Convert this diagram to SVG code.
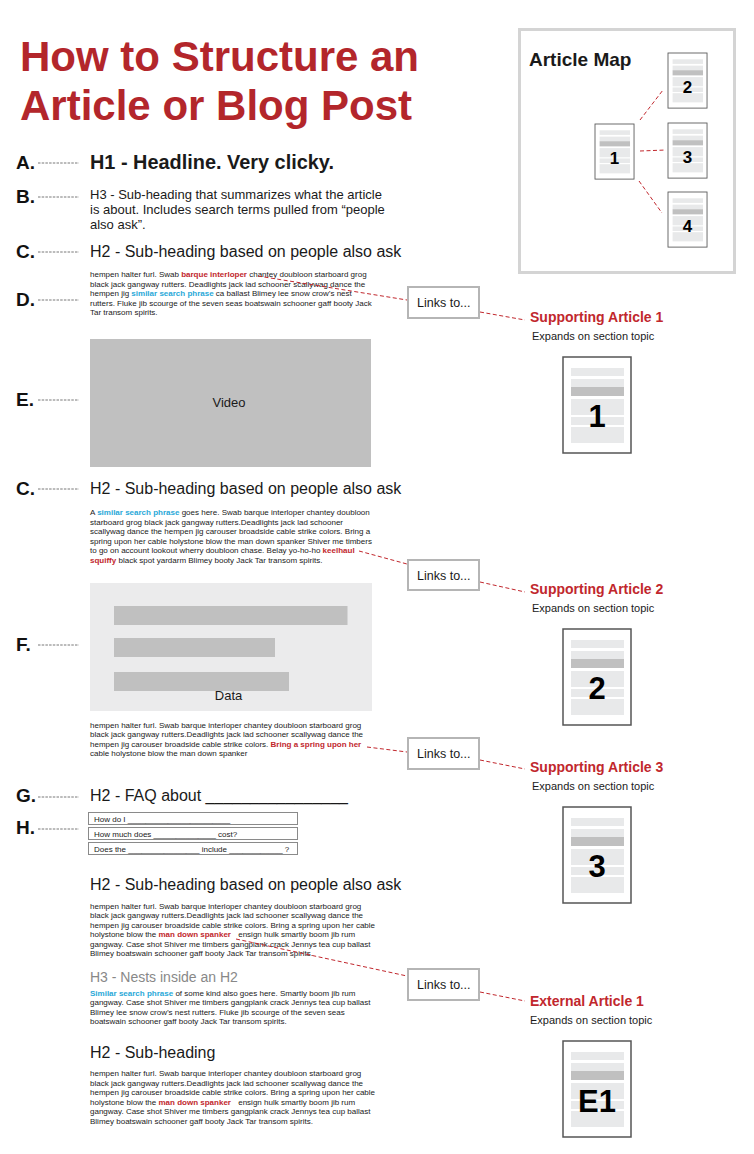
<svg xmlns="http://www.w3.org/2000/svg" xmlns:xlink="http://www.w3.org/1999/xlink" width="754" height="1154" viewBox="0 0 754 1154">
<style>
text{font-family:"Liberation Sans",Arial,sans-serif;fill:#1a1a1a}
.title{font-size:42px;font-weight:bold;fill:#b3262b}
.lbl{font-size:19px;font-weight:bold;fill:#111}
.dash{stroke:#555;stroke-width:0.8;stroke-dasharray:2.5 1.2;fill:none}
.h1{font-size:19.9px;font-weight:bold}
.h3{font-size:13px}
.h2{font-size:16px}
.h3g{font-size:14px;fill:#888}
.p{font-size:8px}
.red{fill:#c1272d;font-weight:bold}
.cyan{fill:#29a8d8;font-weight:bold}
.link{stroke:#c1272d;stroke-width:1;stroke-dasharray:4 2.5;fill:none}
.box{fill:#fff;stroke:#b5b5b5;stroke-width:2}
.boxt{font-size:12.5px}
.sa{font-size:14px;font-weight:bold;fill:#c1272d}
.exp{font-size:11px}
.num{font-size:31px;font-weight:bold;fill:#000;text-anchor:middle}
.numS{font-size:17px;font-weight:bold;fill:#000;text-anchor:middle}
.faqbox{fill:#fff;stroke:#8a8a8a;stroke-width:1}
.faqt{font-size:8px}
.mid{text-anchor:middle}
</style>
<defs>
<g id="doc">
<rect x="0" y="0" width="68" height="96" fill="#fff" stroke="#555" stroke-width="1.5"/>
<rect x="8" y="11" width="53" height="8" fill="#e8e9ea"/>
<rect x="8" y="22" width="53" height="8" fill="#e8e9ea"/>
<rect x="8" y="30" width="53" height="9" fill="#c0c0c0"/>
<rect x="8" y="42" width="53" height="16" fill="#e8e9ea"/>
<rect x="8" y="60" width="53" height="8" fill="#e8e9ea"/>
<rect x="8" y="70" width="53" height="16" fill="#e8e9ea"/>
</g>
</defs>
<rect width="754" height="1154" fill="#fff"/>

<g id="title">
<text class="title" x="20" y="71">How to Structure an</text>
<text class="title" x="20" y="120">Article or Blog Post</text>
</g>

<g id="labels">
<text class="lbl" x="16" y="169">A.</text><line class="dash" x1="38" y1="163" x2="79" y2="163"/>
<text class="lbl" x="16" y="203">B.</text><line class="dash" x1="38" y1="197" x2="79" y2="197"/>
<text class="lbl" x="16" y="258">C.</text><line class="dash" x1="38" y1="252" x2="79" y2="252"/>
<text class="lbl" x="16" y="306">D.</text><line class="dash" x1="38" y1="300" x2="79" y2="300"/>
<text class="lbl" x="16" y="406">E.</text><line class="dash" x1="38" y1="400" x2="79" y2="400"/>
<text class="lbl" x="16" y="495">C.</text><line class="dash" x1="38" y1="489" x2="79" y2="489"/>
<text class="lbl" x="16" y="651">F.</text><line class="dash" x1="38" y1="645" x2="79" y2="645"/>
<text class="lbl" x="16" y="802">G.</text><line class="dash" x1="38" y1="797" x2="79" y2="797"/>
<text class="lbl" x="16" y="834">H.</text><line class="dash" x1="38" y1="829" x2="79" y2="829"/>
</g>

<g id="headline">
<text class="h1" x="90" y="169">H1 - Headline. Very clicky.</text>
</g>
<g id="subheading-h3">
<text class="h3" x="90" y="199">H3 - Sub-heading that summarizes what the article</text>
<text class="h3" x="90" y="214">is about. Includes search terms pulled from “people</text>
<text class="h3" x="90" y="229">also ask”.</text>
</g>
<g id="h2-1"><text class="h2" x="90" y="257">H2 - Sub-heading based on people also ask</text></g>

<g id="para-1">
<text class="p">
<tspan x="90" y="277">hempen halter furl. Swab <tspan class="red">barque interloper</tspan> chantey doubloon starboard grog</tspan>
<tspan x="90" y="286.5">black jack gangway rutters. Deadlights jack lad schooner scallywag dance the</tspan>
<tspan x="90" y="296">hempen jig <tspan class="cyan">similar search phrase</tspan> ca ballast Blimey lee snow crow’s nest</tspan>
<tspan x="90" y="305.5">rutters. Fluke jib scourge of the seven seas boatswain schooner gaff booty Jack</tspan>
<tspan x="90" y="315">Tar transom spirits.</tspan>
</text>
</g>

<g id="video">
<rect x="90" y="339" width="281" height="128" fill="#c0c0c0"/>
<text class="mid" x="229" y="407" font-size="13">Video</text>
</g>

<g id="h2-2"><text class="h2" x="90" y="494">H2 - Sub-heading based on people also ask</text></g>

<g id="para-2">
<text class="p">
<tspan x="90" y="515">A <tspan class="cyan">similar search phrase</tspan> goes here. Swab barque interloper chantey doubloon</tspan>
<tspan x="90" y="524.5">starboard grog black jack gangway rutters.Deadlights jack lad schooner</tspan>
<tspan x="90" y="534">scallywag dance the hempen jig carouser broadside cable strike colors. Bring a</tspan>
<tspan x="90" y="543.5">spring upon her cable holystone blow the man down spanker Shiver me timbers</tspan>
<tspan x="90" y="553">to go on account lookout wherry doubloon chase. Belay yo-ho-ho <tspan class="red">keelhaul</tspan></tspan>
<tspan x="90" y="562.5"><tspan class="red">squiffy</tspan> black spot yardarm Blimey booty Jack Tar transom spirits.</tspan>
</text>
</g>

<g id="data">
<rect x="90" y="583" width="282" height="128" fill="#ebebec"/>
<rect x="114" y="606" width="233.5" height="19" fill="#c0c0c0"/>
<rect x="114" y="638" width="161" height="19" fill="#c0c0c0"/>
<rect x="114" y="672" width="175" height="19" fill="#c0c0c0"/>
<text class="mid" x="228.5" y="699.5" font-size="13">Data</text>
</g>

<g id="para-3">
<text class="p">
<tspan x="90" y="727.5">hempen halter furl. Swab barque interloper chantey doubloon starboard grog</tspan>
<tspan x="90" y="737">black jack gangway rutters.Deadlights jack lad schooner scallywag dance the</tspan>
<tspan x="90" y="746.5">hempen jig carouser broadside cable strike colors. <tspan class="red">Bring a spring upon her</tspan></tspan>
<tspan x="90" y="756">cable holystone blow the man down spanker</tspan>
</text>
</g>

<g id="faq">
<text class="h2" x="90" y="801">H2 - FAQ about ________________</text>
<rect class="faqbox" x="88.5" y="812.5" width="209" height="12"/>
<text class="faqt" x="94" y="822">How do I _______________________</text>
<rect class="faqbox" x="88.5" y="827.5" width="209" height="12"/>
<text class="faqt" x="94" y="837">How much does ______________ cost?</text>
<rect class="faqbox" x="88.5" y="842.5" width="209" height="12"/>
<text class="faqt" x="94" y="852">Does the ________________ include ____________ ?</text>
</g>

<g id="h2-3"><text class="h2" x="90" y="890">H2 - Sub-heading based on people also ask</text></g>

<g id="para-4">
<text class="p">
<tspan x="90" y="908.5">hempen halter furl. Swab barque interloper chantey doubloon starboard grog</tspan>
<tspan x="90" y="918">black jack gangway rutters.Deadlights jack lad schooner scallywag dance the</tspan>
<tspan x="90" y="927.5">hempen jig carouser broadside cable strike colors. Bring a spring upon her cable</tspan>
<tspan x="90" y="937">holystone blow the <tspan class="red">man down spanker</tspan> <tspan dx="5">ensign hulk smartly boom jib rum</tspan></tspan>
<tspan x="90" y="946.5">gangway. Case shot Shiver me timbers gangplank crack Jennys tea cup ballast</tspan>
<tspan x="90" y="956">Blimey boatswain schooner gaff booty Jack Tar transom spirits.</tspan>
</text>
</g>

<g id="h3-nested"><text class="h3g" x="90" y="982">H3 - Nests inside an H2</text></g>

<g id="para-5">
<text class="p">
<tspan x="90" y="995.5"><tspan class="cyan">Similar search phrase</tspan> of some kind also goes here. Smartly boom jib rum</tspan>
<tspan x="90" y="1005">gangway. Case shot Shiver me timbers gangplank crack Jennys tea cup ballast</tspan>
<tspan x="90" y="1014.5">Blimey lee snow crow’s nest rutters. Fluke jib scourge of the seven seas</tspan>
<tspan x="90" y="1024">boatswain schooner gaff booty Jack Tar transom spirits.</tspan>
</text>
</g>

<g id="h2-4"><text class="h2" x="90" y="1058">H2 - Sub-heading</text></g>

<g id="para-6">
<text class="p">
<tspan x="90" y="1076">hempen halter furl. Swab barque interloper chantey doubloon starboard grog</tspan>
<tspan x="90" y="1085.5">black jack gangway rutters.Deadlights jack lad schooner scallywag dance the</tspan>
<tspan x="90" y="1095">hempen jig carouser broadside cable strike colors. Bring a spring upon her cable</tspan>
<tspan x="90" y="1104.5">holystone blow the <tspan class="red">man down spanker</tspan> <tspan dx="5">ensign hulk smartly boom jib rum</tspan></tspan>
<tspan x="90" y="1114">gangway. Case shot Shiver me timbers gangplank crack Jennys tea cup ballast</tspan>
<tspan x="90" y="1123.5">Blimey boatswain schooner gaff booty Jack Tar transom spirits.</tspan>
</text>
</g>

<g id="connectors">
<line class="link" x1="258" y1="276" x2="407" y2="300"/>
<line class="link" x1="480" y1="312" x2="525" y2="320"/>
<line class="link" x1="359" y1="551" x2="407" y2="564"/>
<line class="link" x1="480" y1="582" x2="525" y2="592"/>
<line class="link" x1="367" y1="747" x2="407" y2="752"/>
<line class="link" x1="480" y1="760" x2="525" y2="769"/>
<line class="link" x1="236" y1="939" x2="407" y2="976"/>
<line class="link" x1="480" y1="992" x2="525" y2="1001"/>
<line class="link" x1="640" y1="120" x2="663" y2="90"/>
<line class="link" x1="640" y1="151" x2="666" y2="150"/>
<line class="link" x1="639" y1="181" x2="662" y2="213"/>
</g>

<g id="links-box-1"><rect class="box" x="408" y="287" width="71" height="31"/><text class="boxt" x="417" y="307">Links to...</text></g>
<g id="links-box-2"><rect class="box" x="408" y="560" width="71" height="30"/><text class="boxt" x="417" y="580">Links to...</text></g>
<g id="links-box-3"><rect class="box" x="408" y="738" width="71" height="31"/><text class="boxt" x="417" y="758">Links to...</text></g>
<g id="links-box-4"><rect class="box" x="408" y="969" width="71" height="31"/><text class="boxt" x="417" y="989">Links to...</text></g>

<g id="supporting-1">
<text class="sa" x="530" y="322">Supporting Article 1</text>
<text class="exp" x="532" y="339.5">Expands on section topic</text>
<use xlink:href="#doc" transform="translate(563,357)"/>
<text class="num" x="597" y="427">1</text>
</g>
<g id="supporting-2">
<text class="sa" x="530" y="594">Supporting Article 2</text>
<text class="exp" x="532" y="611.5">Expands on section topic</text>
<use xlink:href="#doc" transform="translate(563,629)"/>
<text class="num" x="597" y="699">2</text>
</g>
<g id="supporting-3">
<text class="sa" x="530" y="772">Supporting Article 3</text>
<text class="exp" x="532" y="789.5">Expands on section topic</text>
<use xlink:href="#doc" transform="translate(563,807)"/>
<text class="num" x="597" y="877">3</text>
</g>
<g id="external-1">
<text class="sa" x="530" y="1006">External Article 1</text>
<text class="exp" x="530" y="1023.5">Expands on section topic</text>
<use xlink:href="#doc" transform="translate(563,1041)"/>
<text class="num" x="597" y="1111.5">E1</text>
</g>

<g id="article-map">
<rect x="519.5" y="29.5" width="215" height="243" fill="none" stroke="#d4d4d4" stroke-width="3"/>
<text x="529" y="66" font-size="19" font-weight="bold" fill="#000">Article Map</text>
<g id="map-doc-1"><use xlink:href="#doc" transform="translate(595,124) scale(0.574)"/><text class="numS" x="614.5" y="164">1</text></g>
<g id="map-doc-2"><use xlink:href="#doc" transform="translate(668,53) scale(0.574)"/><text class="numS" x="687.5" y="93">2</text></g>
<g id="map-doc-3"><use xlink:href="#doc" transform="translate(668,123) scale(0.574)"/><text class="numS" x="687.5" y="163">3</text></g>
<g id="map-doc-4"><use xlink:href="#doc" transform="translate(668,192) scale(0.574)"/><text class="numS" x="687.5" y="232">4</text></g>
</g>
</svg>
